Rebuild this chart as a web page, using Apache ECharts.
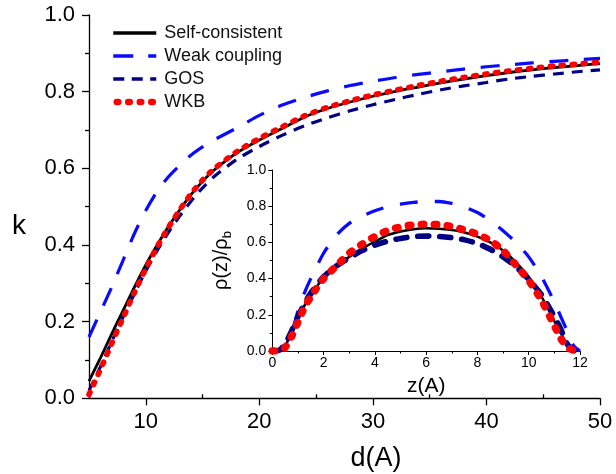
<!DOCTYPE html>
<html><head><meta charset="utf-8">
<script src="https://cdn.jsdelivr.net/npm/echarts@6/dist/echarts.min.js"></script>
<style>html,body{margin:0;padding:0;background:#fff}#c{width:616px;height:474px}</style>
</head><body><div id="c"></div>
<script>
// ---- Main plot: k vs d(A)
const dVals = [5,6,7,8,9,10,11,12,13,14,15,16,18,20,22,24,26,28,30,32,34,36,38,40,42,44,46,48,50];
const kSelf = [0.045,0.105,0.168,0.229,0.290,0.348,0.400,0.448,0.492,0.532,0.566,0.595,0.640,0.674,0.704,0.734,0.756,0.773,0.788,0.801,0.812,0.823,0.833,0.842,0.850,0.857,0.863,0.868,0.873];
const kWeak = [0.160,0.225,0.290,0.360,0.430,0.490,0.540,0.578,0.608,0.635,0.656,0.674,0.705,0.738,0.765,0.785,0.802,0.816,0.827,0.837,0.845,0.852,0.859,0.865,0.870,0.875,0.879,0.883,0.887];
const kGOS  = [0.020,0.082,0.148,0.212,0.273,0.332,0.385,0.433,0.476,0.515,0.549,0.578,0.623,0.657,0.686,0.711,0.732,0.750,0.766,0.780,0.793,0.805,0.815,0.824,0.833,0.840,0.846,0.852,0.857];
const kWKB  = [0.010,0.075,0.143,0.210,0.276,0.338,0.395,0.446,0.492,0.534,0.569,0.598,0.643,0.678,0.708,0.737,0.759,0.776,0.791,0.804,0.816,0.827,0.837,0.846,0.854,0.861,0.867,0.872,0.877];

// ---- Inset: rho(z)/rho_b vs z(A)
const zVals = [0,0.25,0.5,0.75,1,1.25,1.5,2,2.5,3,3.5,4,4.5,5,5.5,6,6.5,7,7.5,8,8.5,9,9.5,10,10.5,11,11.25,11.5,11.75,12];
const rSelf = [0,0.003,0.03,0.10,0.18,0.25,0.30,0.41,0.47,0.52,0.565,0.605,0.64,0.66,0.673,0.678,0.676,0.668,0.655,0.632,0.60,0.555,0.49,0.41,0.30,0.165,0.10,0.035,0,0];
const rWeak = [0,0,0.02,0.10,0.22,0.32,0.40,0.54,0.64,0.705,0.745,0.775,0.797,0.811,0.821,0.826,0.826,0.815,0.795,0.765,0.72,0.665,0.60,0.52,0.41,0.27,0.19,0.11,0.03,0];
const rGOS  = [0,0.003,0.04,0.11,0.19,0.26,0.32,0.41,0.47,0.515,0.555,0.585,0.607,0.622,0.632,0.635,0.633,0.626,0.614,0.594,0.562,0.52,0.465,0.395,0.31,0.19,0.12,0.04,0,0];
const rWKB  = [0,0,0.02,0.08,0.16,0.24,0.30,0.40,0.47,0.54,0.59,0.632,0.665,0.685,0.697,0.70,0.698,0.688,0.668,0.645,0.61,0.555,0.475,0.39,0.28,0.14,0.07,0.02,0.005,0];

const names = ['Self-consistent','Weak coupling','GOS','WKB'];
const xMajor = [10,20,30,40,50];
const xMinor = [5,15,25,35,45];

const FONT = 'Liberation Sans, Arial, Helvetica, sans-serif';
const pair = (xs, ys) => xs.map((x,i)=>[x, ys[i]]);

const mainStyles = [
  {color:'#000000', width:2.8, type:'solid'},
  {color:'#0a0aff', width:3.2, type:[19,15.5], cap:'butt'},
  {color:'#000080', width:3.2, type:[11,8], cap:'butt'},
  {color:'#ff0000', width:5.6, type:[2.5,8.5], cap:'round'}
];
const insetStyles = [
  {color:'#000000', width:2.5, type:'solid'},
  {color:'#0a0aff', width:3.3, type:[18,17], cap:'butt'},
  {color:'#000080', width:5.6, type:[11,11], cap:'round'},
  {color:'#ff0000', width:7.5, type:[2.5,10.5], cap:'round'}
];
const legendStyles = [
  {color:'#000000', width:3.5, type:'solid'},
  {color:'#0a0aff', width:3.4, type:[20,15], cap:'butt'},
  {color:'#000080', width:3.4, type:[11,7.5], cap:'butt'},
  {color:'#ff0000', width:6.5, type:[1.5,10], cap:'round', dashOffset:-3.5}
];
const mainData = [kSelf,kWeak,kGOS,kWKB];
const insetData = [rSelf,rWeak,rGOS,rWKB];

const series = [];
names.forEach((n,i)=>{
  series.push({
    name:n, type:'line', xAxisIndex:0, yAxisIndex:0, symbol:'none', smooth:0.25,
    data: pair(dVals, mainData[i]), lineStyle: mainStyles[i], color: mainStyles[i].color,
    z: 2+i, animation:false
  });
});
names.forEach((n,i)=>{
  series.push({
    name:n, type:'line', xAxisIndex:2, yAxisIndex:1, symbol:'none', smooth:0.25,
    data: pair(zVals, insetData[i]), lineStyle: insetStyles[i], color: insetStyles[i].color,
    z: 2+i, animation:false
  });
});

const axisLineStyle = {color:'#000', width:1.3};
const option = {
  animation:false,
  backgroundColor:'#fff',
  textStyle:{fontFamily:FONT},
  legend:{
    data:names.map((n,i)=>({name:n, lineStyle:legendStyles[i]})),
    orient:'vertical', left:110, top:24, padding:0,
    itemWidth:43, itemHeight:14, itemGap:5,
    itemStyle:{opacity:0, borderWidth:0},
    textStyle:{fontSize:18, color:'#111', fontFamily:FONT, padding:[0,0,0,3]}
  },
  graphic:[
    {type:'text', left:12, top:212, style:{text:'k', fontSize:28, fontFamily:FONT, fill:'#000'}}
  ],
  grid:[
    {left:89, right:16, top:15, bottom:75.7, containLabel:false, outerBoundsMode:'none'},
    {left:272.3, right:36, top:170, bottom:123, containLabel:false, outerBoundsMode:'none'}
  ],
  xAxis:[
    {type:'value', gridIndex:0, min:5, max:50, interval:5,
     axisLine:{show:true, onZero:false, lineStyle:axisLineStyle},
     axisTick:{show:true, length:7, inside:false, customValues:xMajor, lineStyle:{color:'#000', width:1.3}},
     axisLabel:{show:true, customValues:xMajor, fontSize:22, color:'#000', margin:13, fontFamily:FONT},
     splitLine:{show:false},
     name:'d(A)', nameLocation:'middle', nameGap:47,
     nameTextStyle:{fontSize:27, color:'#000', fontFamily:FONT, padding:[0,0,0,63]}
    },
    {type:'value', gridIndex:0, min:5, max:50, interval:5,
     axisLine:{show:false}, axisLabel:{show:false}, splitLine:{show:false},
     axisTick:{show:true, length:4, customValues:xMinor, lineStyle:{color:'#000', width:1.3}}
    },
    {type:'value', gridIndex:1, min:0, max:12, interval:2,
     axisLine:{show:true, onZero:false, lineStyle:{color:'#000', width:1}},
     axisTick:{show:true, length:4, lineStyle:{color:'#000', width:1}},
     minorTick:{show:true, splitNumber:2, length:2.5, lineStyle:{color:'#000', width:1}},
     axisLabel:{fontSize:14, color:'#000', margin:5, fontFamily:FONT},
     splitLine:{show:false},
     name:'z(A)', nameLocation:'middle', nameGap:25,
     nameTextStyle:{fontSize:21, color:'#000', fontFamily:FONT}
    }
  ],
  yAxis:[
    {type:'value', gridIndex:0, min:0, max:1, interval:0.2,
     axisLine:{show:true, onZero:false, lineStyle:axisLineStyle},
     axisTick:{show:true, length:7, lineStyle:{color:'#000', width:1.3}},
     minorTick:{show:true, splitNumber:2, length:4, lineStyle:{color:'#000', width:1.3}},
     axisLabel:{fontSize:22, color:'#000', margin:14, fontFamily:FONT, formatter:v=>v.toFixed(1)},
     splitLine:{show:false}
    },
    {type:'value', gridIndex:1, min:0, max:1, interval:0.2,
     axisLine:{show:true, onZero:false, lineStyle:{color:'#000', width:1}},
     axisTick:{show:true, length:4, lineStyle:{color:'#000', width:1}},
     minorTick:{show:true, splitNumber:2, length:2.5, lineStyle:{color:'#000', width:1}},
     axisLabel:{fontSize:14, color:'#000', margin:6, fontFamily:FONT, formatter:v=>v.toFixed(1)},
     splitLine:{show:false},
     name:'{a|\u03c1(z)/\u03c1}{b|b}', nameLocation:'middle', nameRotate:90, nameGap:38,
     nameTextStyle:{fontFamily:FONT, color:'#000',
       rich:{a:{fontSize:20, fontFamily:FONT, color:'#000', lineHeight:26, verticalAlign:'middle'},
             b:{fontSize:13, fontFamily:FONT, color:'#000', lineHeight:26, verticalAlign:'bottom', padding:[10,0,0,0]}}}
    }
  ],
  series
};
const chart = echarts.init(document.getElementById('c'), null, {renderer:'canvas'});
chart.setOption(option);
</script></body></html>
